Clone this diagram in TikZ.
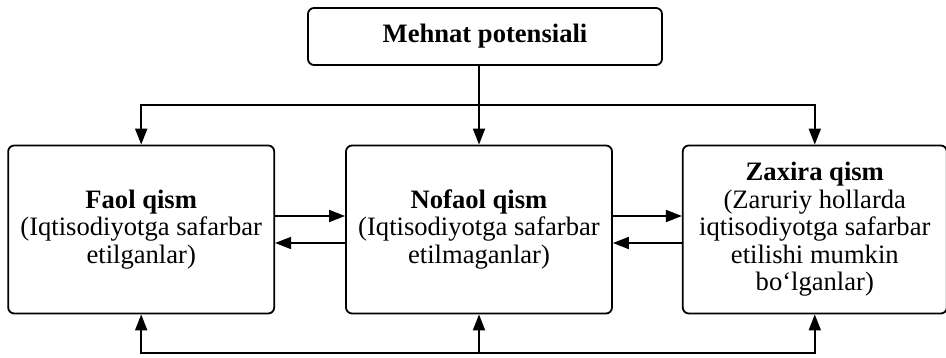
\documentclass[tikz,border=0pt]{standalone}
\usepackage{fontspec}
\setmainfont{Liberation Serif}
\usepackage{tikz}
\usetikzlibrary{positioning, arrows.meta}

\begin{document}
\begin{tikzpicture}[
      x=1pt, y=1pt,
      line width=1.8pt,
      every node/.style={align=center, font=\fontsize{26.6}{27.5}\selectfont},
      partbox/.style={rectangle, draw, rounded corners=6pt, minimum width=266pt, minimum height=168pt, inner sep=2pt},
      headbox/.style={rectangle, draw, rounded corners=6pt, minimum width=354pt, minimum height=57pt},
      arr/.style={-{Triangle[length=16pt, width=12pt]}}
    ]
      \useasboundingbox (0,0) rectangle (946,357);
      \node[headbox] (potential) at (485,320.5) {\bfseries Mehnat potensiali};
      \node[partbox] (nofaol) at (479,127.5) {{\bfseries Nofaol qism}\\(Iqtisodiyotga safarbar\\etilmaganlar)};
      \node[partbox, left=70pt of nofaol] (faol) {{\bfseries Faol qism}\\(Iqtisodiyotga safarbar\\etilganlar)};
      \node[partbox, right=69pt of nofaol, minimum width=264pt] (zaxira) {{\bfseries Zaxira qism}\\(Zaruriy hollarda\\iqtisodiyotga safarbar\\etilishi mumkin\\bo‘lganlar)};

      \coordinate (split) at (nofaol.north |- 0,252);
      \coordinate (bus) at (nofaol.south |- 0,4);
      \draw (potential.south -| split) -- (split);
      \draw[arr] (split) -- (nofaol.north);
      \draw[arr] (split) -| (faol.north);
      \draw[arr] (split) -| (zaxira.north);
      \draw[arr] (bus) -- (nofaol.south);
      \draw[arr] (bus) -| (faol.south);
      \draw[arr] (bus) -| (zaxira.south);

      \draw[arr] ([yshift=13.5pt]faol.east) -- ([yshift=13.5pt]nofaol.west);
      \draw[arr] ([yshift=-13.5pt]nofaol.west) -- ([yshift=-13.5pt]faol.east);
      \draw[arr] ([yshift=13.5pt]nofaol.east) -- ([yshift=13.5pt]zaxira.west);
      \draw[arr] ([yshift=-13.5pt]zaxira.west) -- ([yshift=-13.5pt]nofaol.east);
    \end{tikzpicture}
\end{document}
